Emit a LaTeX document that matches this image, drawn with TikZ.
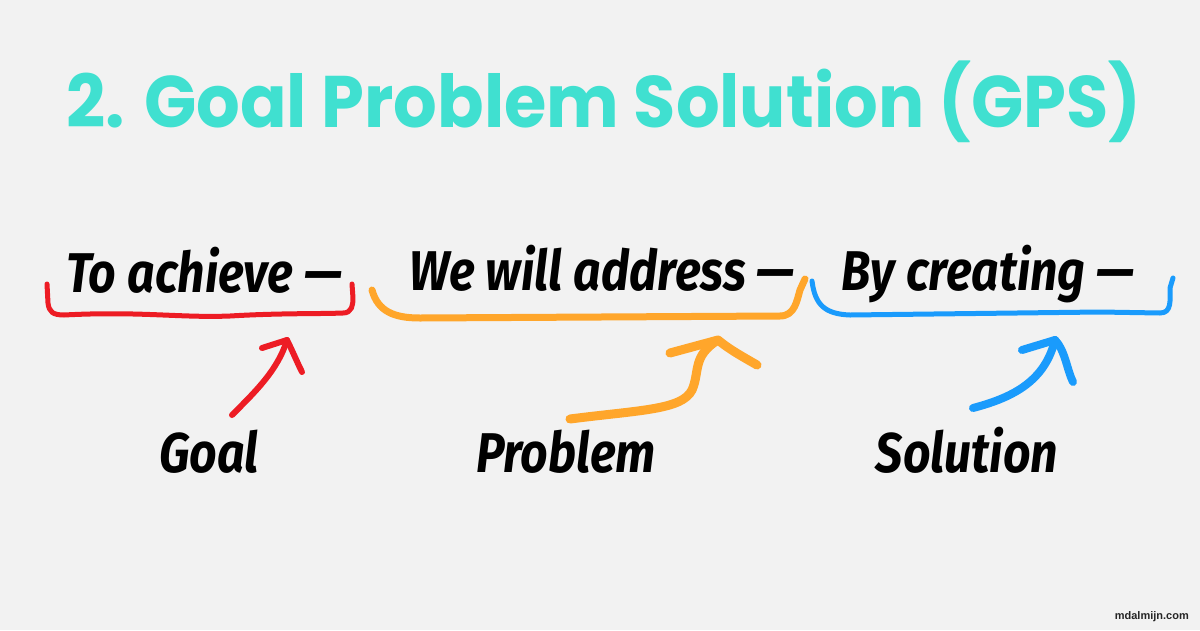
\documentclass[tikz,border=0pt]{standalone}
\usepackage{fontspec}
\newfontfamily\titlefont[FakeStretch=0.94]{Poppins}
\newfontfamily\handfont[FakeStretch=0.86]{Fira Sans}
\newfontfamily\sitefont{Liberation Sans}
\definecolor{bgray}{HTML}{F2F2F2}\definecolor{turq}{HTML}{40E0D0}
\definecolor{penred}{HTML}{ED1C24}\definecolor{penorange}{HTML}{FFA62B}\definecolor{penblue}{HTML}{1A9BFC}
\tikzset{hand/.style={anchor=base,inner sep=0pt,font=\handfont\bfseries\itshape\fontsize{56}{60}\selectfont},pen/.style={line width=#1,line cap=round,line join=round}}
\begin{document}
\begin{tikzpicture}[x=1pt,y=-1pt]
\fill[bgray] (0,0) rectangle (1200,630);\useasboundingbox (0,0) rectangle (1200,630);
\node[anchor=base,inner sep=0pt,text=turq,font=\titlefont\bfseries\fontsize{73}{80}\selectfont] (title) at (604,127) {2. Goal Problem Solution (GPS)};
\node[hand] (achieve) at (204,292) {To achieve —};\node[hand] (address) at (602,290) {We will address —};\node[hand] (creating) at (988,290) {By creating —};
\node[hand] (goal) at (209,472) {Goal};\node[hand] (problem) at (566,472) {Problem};\node[hand] (solution) at (967,472) {Solution};
\draw[penred,pen=5pt] (47,284) -- (48,303) .. controls (49,312) and (53,315) .. (64,315) .. controls (140,311) and (180,318) .. (230,316) .. controls (280,313) and (320,314) .. (343,313) .. controls (352,313) and (353,305) .. (353,298) -- (352,284);
\draw[penorange,pen=7pt] (372,290) .. controls (378,312) and (395,318) .. (420,318) -- (780,316) .. controls (795,316) and (797,300) .. (800,290) -- (805,279);
\draw[penblue,pen=5pt] (812,281) .. controls (815,305) and (825,314) .. (850,315) -- (1100,312) -- (1160,313) .. controls (1172,313) and (1170,300) .. (1170,288) -- (1173,278);
\coordinate (goaltail) at (232,415);\coordinate (goaltip) at (287,340);\coordinate (problemtail) at (570,419);\coordinate (problemtip) at (718,340);\coordinate (solutiontail) at (973,408);\coordinate (solutiontip) at (1055,340);
\draw[penred,pen=6pt] (goaltail) .. controls (255,392) and (278,370) .. (goaltip);\draw[penred,pen=6pt] (262,348) -- (goaltip) .. controls (293,352) and (297,362) .. (302,372);
\draw[penorange,pen=9pt] (problemtail) .. controls (640,410) and (682,410) .. (692,390) .. controls (700,372) and (692,356) .. (problemtip);\draw[penorange,pen=9pt] (670,353) -- (problemtip) .. controls (730,350) and (745,358) .. (757,365);
\draw[penblue,pen=8pt] (solutiontail) .. controls (1015,397) and (1045,380) .. (solutiontip);\draw[penblue,pen=8pt] (1022,350) -- (solutiontip) .. controls (1065,350) and (1067,370) .. (1073,382);
\node[anchor=base east,inner sep=0pt,font=\sitefont\bfseries\fontsize{11}{13}\selectfont,text=black!85] (site) at (1189,619) {mdalmijn.com};
\end{tikzpicture}
\end{document}
